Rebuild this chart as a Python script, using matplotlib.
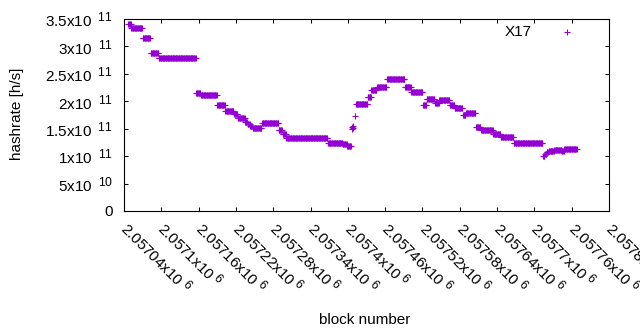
import numpy as np
import matplotlib
matplotlib.use("Agg")
import matplotlib.pyplot as plt
import matplotlib._mathtext as _mt

_mt.SHRINK_FACTOR = 0.8  # gnuplot-like superscript size

plt.rcParams['font.family'] = ['Liberation Sans', 'DejaVu Sans']
plt.rcParams['mathtext.fontset'] = 'custom'
plt.rcParams['mathtext.rm'] = 'Liberation Sans'
plt.rcParams['mathtext.it'] = 'Liberation Sans:italic'
plt.rcParams['mathtext.default'] = 'regular'

# ---- data ----
block_base = 2057040
# segments of equal hashrate: first block offset, last block offset (exclusive), hashrate [1e11 h/s]
seg_first = [7, 12, 30, 43, 56, 116, 124, 150, 163, 177, 183, 195, 199, 203, 207, 222, 230,
             249, 255, 261, 328, 352, 359, 366, 367, 368, 369, 371, 373, 392, 398, 407, 423,
             452, 462, 481, 487, 500, 507, 524, 532, 545, 550, 566, 574, 594, 606, 627, 674,
             677, 680, 683, 692, 704, 708, 719]
seg_last = [12, 30, 43, 56, 116, 124, 150, 163, 177, 183, 195, 199, 203, 207, 222, 230, 249,
            255, 261, 328, 352, 359, 366, 367, 368, 369, 370, 372, 392, 398, 407, 423, 452,
            462, 481, 487, 500, 507, 524, 532, 545, 550, 566, 574, 594, 606, 627, 674, 677,
            680, 683, 692, 704, 708, 719, 729]
seg_hashrate = [3.41, 3.33, 3.16, 2.875, 2.78, 2.145, 2.12, 1.925, 1.815, 1.76, 1.695, 1.63,
                1.59, 1.55, 1.52, 1.61, 1.60, 1.47, 1.40, 1.325, 1.24, 1.215, 1.185, 1.49,
                1.53, 1.51, 1.55, 1.725, 1.95, 2.08, 2.20, 2.26, 2.40, 2.265, 2.165, 1.93,
                2.05, 1.96, 2.02, 1.925, 1.87, 1.75, 1.78, 1.535, 1.47, 1.40, 1.345, 1.235,
                1.00, 1.03, 1.07, 1.10, 1.12, 1.09, 1.13, 1.125]

x_ticks = [block_base + 60 * i for i in range(14)]
x_tick_mant = ['2.05704', '2.0571', '2.05716', '2.05722', '2.05728', '2.05734', '2.0574',
               '2.05746', '2.05752', '2.05758', '2.05764', '2.0577', '2.05776', '2.05782']
y_ticks = [0, 0.5e11, 1e11, 1.5e11, 2e11, 2.5e11, 3e11, 3.5e11]
y_tick_labels = ['0', '5x10$^{\\ \\ 10}$', '1x10$^{\\ \\ 11}$', '1.5x10$^{\\ \\ 11}$',
                 '2x10$^{\\ \\ 11}$', '2.5x10$^{\\ \\ 11}$', '3x10$^{\\ \\ 11}$',
                 '3.5x10$^{\\ \\ 11}$']
series_name = 'X17'

blocks = []
rates = []
for a, b, h in zip(seg_first, seg_last, seg_hashrate):
    for k in range(a, b):
        blocks.append(block_base + k)
        rates.append(h * 1e11)
blocks = np.array(blocks)
rates = np.array(rates)

color = '#9400D3'
fs = 11

fig = plt.figure(figsize=(6.4, 3.3), dpi=100)
ax = fig.add_axes([124 / 640, (330 - 211) / 330, 485 / 640, 192 / 330])

ax.plot(blocks, rates, linestyle='none', marker='+', color=color,
        markersize=4.8, markeredgewidth=0.8)

ax.set_xlim(block_base, block_base + 780)
ax.set_ylim(0, 3.5e11)

ax.set_yticks(y_ticks)
ax.set_yticklabels(y_tick_labels, fontsize=fs)
ax.set_xticks(x_ticks)
ax.set_xticklabels([m + 'x10$^{\\ 6}$' for m in x_tick_mant], fontsize=fs,
                   rotation=-45, ha='left', va='center', rotation_mode='anchor')

ax.tick_params(axis='both', direction='in', length=3, width=0.75,
               top=True, right=True, colors='black')
ax.tick_params(axis='y', pad=8)
ax.tick_params(axis='x', pad=10)
for s in ax.spines.values():
    s.set_linewidth(0.8)
    s.set_color('black')

# legend (gnuplot style: text right, sample on the right)
ax.text(0.841, 0.932, series_name, transform=ax.transAxes, ha='right', va='center', fontsize=fs)
ax.plot([0.913], [0.932], linestyle='none', marker='+', color=color, markersize=4.8,
        markeredgewidth=0.8, transform=ax.transAxes, clip_on=False)

fig.text(17 / 640, (330 - 114) / 330, 'hashrate [h/s]', rotation=90, ha='center', va='center',
         fontsize=fs)
fig.text(365 / 640, (330 - 320) / 330, 'block number', ha='center', va='center', fontsize=fs)

fig.savefig('out.png', dpi=100)
